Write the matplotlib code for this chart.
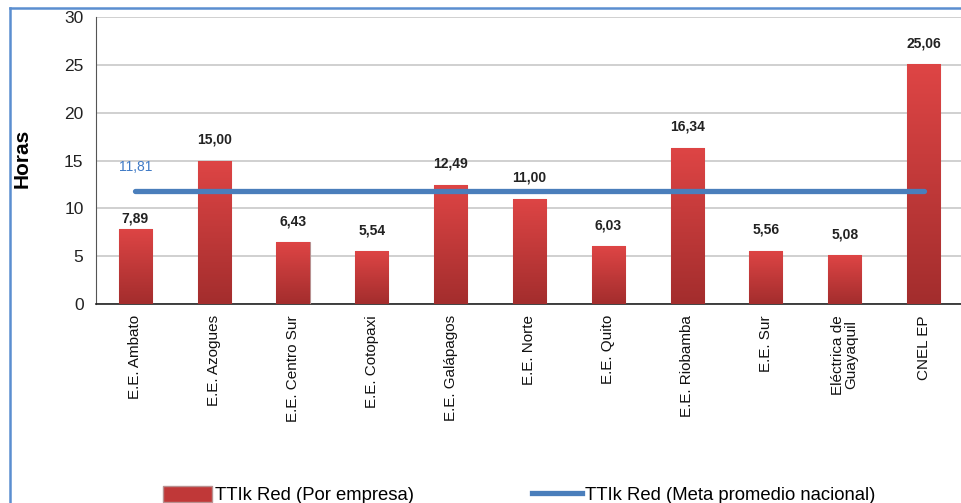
import matplotlib.pyplot as plt
import matplotlib.lines as mlines
import matplotlib.patches as mpatches
from matplotlib.colors import LinearSegmentedColormap
import numpy as np

empresas = ["E.E. Ambato", "E.E. Azogues", "E.E. Centro Sur", "E.E. Cotopaxi",
            "E.E. Galápagos", "E.E. Norte", "E.E. Quito", "E.E. Riobamba",
            "E.E. Sur", "Eléctrica de\nGuayaquil", "CNEL EP"]
ttik = [7.89, 15.00, 6.43, 5.54, 12.49, 11.00, 6.03, 16.34, 5.56, 5.08, 25.06]
meta = 11.81
y_ticks = [0, 5, 10, 15, 20, 25, 30]

plt.rcParams['font.family'] = ['Liberation Sans', 'DejaVu Sans']

fig = plt.figure(figsize=(9.62, 5.03), dpi=100)
ax = fig.add_axes([0.0998, 0.3956, 0.9012, 0.5706])

x = np.arange(len(empresas))
bars = ax.bar(x, ttik, width=0.42, color='#c83a3a', edgecolor='#b89090',
              linewidth=0.8, zorder=3)

# degradado vertical en cada barra
cmap = LinearSegmentedColormap.from_list('rojo', ['#a32d2d', '#de4545'])
grad = np.linspace(0, 1, 256).reshape(-1, 1)
for b in bars:
    im = ax.imshow(grad, cmap=cmap, origin='lower', aspect='auto',
                   extent=[b.get_x(), b.get_x() + b.get_width(), 0, b.get_height()],
                   zorder=3.5)
    im.set_clip_path(b)

ax.plot([x[0], x[-1]], [meta, meta], color='#4a7ebb', linewidth=3.8,
        solid_capstyle='round', zorder=4)

# etiquetas de valor
offs = [2, 10, 10, 10, 10, 10, 10, 10, 10, 10, 10]
for i, v in enumerate(ttik):
    ax.annotate(("%.2f" % v).replace('.', ','), (x[i], v), xytext=(0, offs[i]),
                textcoords='offset points', ha='center', va='bottom',
                fontsize=10, fontweight='bold', color='#222222')
ax.annotate(("%.2f" % meta).replace('.', ','), (x[0], meta), xytext=(0, 12),
            textcoords='offset points', ha='center', va='bottom',
            fontsize=10, color='#3f7ac6')

ax.set_xlim(-0.5, len(empresas) - 0.5)
ax.set_ylim(0, 30)
ax.set_yticks(y_ticks)
ax.set_xticks(x)
ax.set_xticklabels(empresas, rotation=90, fontsize=11, linespacing=0.95)
ax.tick_params(axis='y', labelsize=12.5, length=0, pad=9, colors='#222222')
ax.tick_params(axis='x', length=0, pad=8, colors='#111111')
ax.yaxis.grid(True, color='#c8c8c8', linewidth=1.2, zorder=0)
ax.set_axisbelow(True)
for s in ['top', 'right']:
    ax.spines[s].set_visible(False)
ax.spines['left'].set_color('#555555')
ax.spines['bottom'].set_color('#222222')
ax.spines['bottom'].set_linewidth(1.2)

fig.text(0.023, 0.685, 'Horas', rotation=90, fontsize=15, fontweight='bold',
         ha='center', va='center')

# marco azul
fig.add_artist(mlines.Line2D([0.0104, 0.0104], [0, 0.985], color='#5b8ed0',
                             linewidth=1.8, transform=fig.transFigure))
fig.add_artist(mlines.Line2D([0.0104, 1.0], [0.985, 0.985], color='#5b8ed0',
                             linewidth=1.8, transform=fig.transFigure))

h1 = mpatches.Patch(facecolor='#c03838', edgecolor='#b89090')
h2 = mlines.Line2D([], [], color='#4a7ebb', linewidth=3.8)
fig.legend([h1, h2], ['TTIk Red (Por empresa)', 'TTIk Red (Meta promedio nacional)'],
           loc='center left', bbox_to_anchor=(0.169, 0.016), ncol=2, frameon=False,
           fontsize=13.3, handlelength=2.7, handleheight=1.0, handletextpad=0.15,
           columnspacing=6.4, borderpad=0, borderaxespad=0)

fig.savefig('out.png', dpi=100)
